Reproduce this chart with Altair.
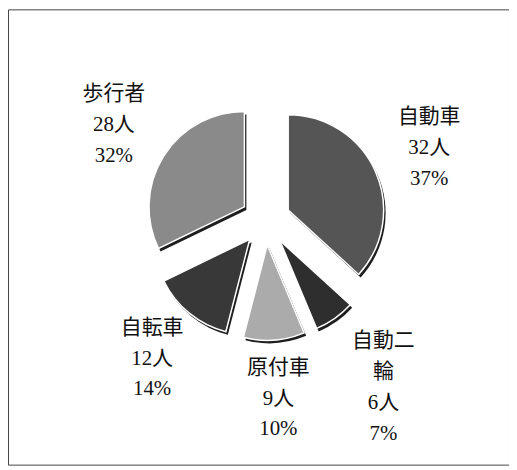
import altair as alt
import pandas as pd

categories = ["自動車", "自動二輪", "原付車", "自転車", "歩行者"]
name_lines = ["自動車", "自動二\n輪", "原付車", "自転車", "歩行者"]
counts = [32, 6, 9, 12, 28]
order = [1, 2, 3, 4, 5]

df = pd.DataFrame({"category": categories, "name": name_lines, "count": counts, "order": order})

CX, CY, EXPLODE, R = 259, 212, 25, 96
LINE_H = 31
colors = ["#555555", "#2e2e2e", "#ababab", "#383838", "#8a8a8a"]

base = (
    alt.Chart(df)
    .transform_joinaggregate(total="sum(count)")
    .transform_window(cum="sum(count)", sort=[alt.SortField("order")], frame=[None, 0])
    .transform_calculate(
        start="(datum.cum - datum.count) / datum.total * 2 * PI",
        end="datum.cum / datum.total * 2 * PI",
        label="datum.name + '\\n' + datum.count + '人\\n' + round(datum.count / datum.total * 100) + '%'",
    )
    .transform_calculate(
        mid="(datum.start + datum.end) / 2",
        nlines="length(split(datum.label, '\\n'))",
    )
    .transform_calculate(lr="180 + 26 * (datum.nlines - 3)")
    .transform_calculate(
        cx=f"{CX} + {EXPLODE} * sin(datum.mid)",
        cy=f"{CY} - {EXPLODE} * cos(datum.mid)",
        lx=f"{CX} + datum.lr * sin(datum.mid)",
        ly=f"{CY} - datum.lr * cos(datum.mid) - (datum.nlines - 1) * {LINE_H} / 2",
    )
)

shadow = base.mark_arc(outerRadius=R, fill="#1e1e1e", xOffset=2, yOffset=3).encode(
    theta=alt.Theta("start:Q", scale=None, stack=None),
    theta2="end:Q",
    x=alt.X("cx:Q", scale=None),
    y=alt.Y("cy:Q", scale=None),
)

slices = base.mark_arc(outerRadius=R, stroke="white", strokeWidth=1.5).encode(
    theta=alt.Theta("start:Q", scale=None, stack=None),
    theta2="end:Q",
    x=alt.X("cx:Q", scale=None),
    y=alt.Y("cy:Q", scale=None),
    color=alt.Color("category:N", scale=alt.Scale(domain=categories, range=colors), legend=None),
)

labels = base.mark_text(
    lineBreak="\n",
    fontSize=21,
    lineHeight=LINE_H,
    font="Liberation Serif, Noto Sans CJK JP",
    color="#111111",
    align="center",
    baseline="middle",
).encode(
    x=alt.X("lx:Q", scale=None),
    y=alt.Y("ly:Q", scale=None),
    text="label:N",
)

chart = (
    alt.layer(shadow, slices, labels)
    .properties(width=504, height=458, autosize="none", padding=0, background="white")
    .configure_view(stroke="#444444", strokeWidth=1)
)

chart.save("out.html", embed_options={"renderer": "svg", "actions": False})
